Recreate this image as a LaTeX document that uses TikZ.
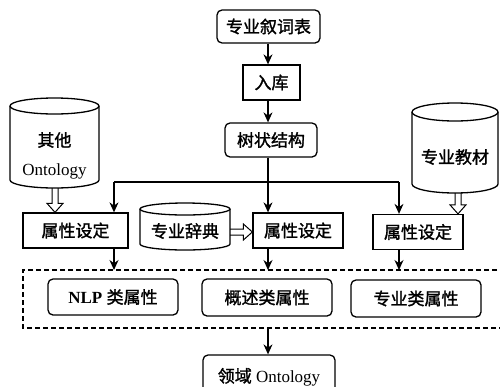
\documentclass[tikz,border=0pt]{standalone}
\usepackage{fontspec}
\setmainfont{Liberation Serif}
\newfontfamily\cjk[FakeBold=1.5]{Noto Sans CJK SC}
\usetikzlibrary{arrows.meta,calc}
\newcommand\hollowdown[2]{\draw[line width=1pt, line join=miter] ($(#1)+(-3,0)$) -- ($(#2)+(-3,-9)$) -- ($(#2)+(-8,-9)$) -- (#2) -- ($(#2)+(8,-9)$) -- ($(#2)+(3,-9)$) -- ($(#1)+(3,0)$);}
\newcommand\hollowright[2]{\draw[line width=1pt, line join=miter] ($(#1)+(0,-3)$) -- ($(#2)+(-9,-3)$) -- ($(#2)+(-9,-8)$) -- (#2) -- ($(#2)+(-9,8)$) -- ($(#2)+(-9,3)$) -- ($(#1)+(0,3)$);}
\begin{document}
\begin{tikzpicture}[x=1pt,y=-1pt,
  txt/.style={inner sep=0pt, font=\fontsize{17}{17}\selectfont},
  box/.style={draw, line width=1.3pt, inner sep=0pt, font=\fontsize{17}{17}\selectfont},
  rbox/.style={box, rounded corners=5pt},
  cylline/.style={line width=1.3pt},
  arr/.style={-{Stealth[length=10pt,width=9pt]}, line width=1.2pt}]
\useasboundingbox (0,0) rectangle (500,386);
% top chain
\node[rbox, minimum width=103pt, minimum height=33pt] (top) at (268.5,26.5) {\cjk 专业叙词表};
\node[box, minimum width=57pt, minimum height=35pt] (ruku) at (271.5,82.5) {\cjk 入库};
\node[rbox, minimum width=92pt, minimum height=34pt] (tree) at (271,140) {\cjk 树状结构};
\coordinate (col) at (268,0);
\draw[arr] (top.south -| col) -- (ruku.north -| col);
\draw[arr] (ruku.south -| col) -- (tree.north -| col);
% cylinders
\draw[cylline] (54.5,106) ellipse [x radius=44.5pt, y radius=8pt];
\draw[cylline] (10,106) -- (10,180) arc[start angle=180,end angle=360,x radius=44.5pt,y radius=8pt] -- (99,106);
\node[txt] (othT) at (54.5,140) {\cjk 其他};
\node[txt] (othO) at (54.5,171) {Ontology};
\coordinate (othb) at (55,188);
\draw[cylline] (455,112) ellipse [x radius=43pt, y radius=9pt];
\draw[cylline] (412,112) -- (412,184) arc[start angle=180,end angle=360,x radius=43pt,y radius=9pt] -- (498,112);
\node[txt] (jcT) at (455,157) {\cjk 专业教材};
\coordinate (jcb) at (458,193);
\draw[cylline] (185,209) ellipse [x radius=45pt, y radius=6pt];
\draw[cylline] (140,209) -- (140,244) arc[start angle=180,end angle=360,x radius=45pt,y radius=6pt] -- (230,209);
\node[txt] (cdT) at (185,231) {\cjk 专业辞典};
\coordinate (cde) at (230,232);
% attribute boxes
\node[box, minimum width=105pt, minimum height=35pt] (a1) at (75.5,230.5) {\cjk 属性设定};
\node[box, minimum width=90pt, minimum height=35pt] (a2) at (298,230.5) {\cjk 属性设定};
\node[box, minimum width=90pt, minimum height=35pt] (a3) at (418,232) {\cjk 属性设定};
% distribution
\coordinate (cl) at (114,182);
\coordinate (cr) at (399,182);
\draw[arr] (tree.south -| col) -- (a2.north -| col);
\draw[line width=1.2pt] (cl) -- (cr);
\draw[arr] (cl) -- (a1.north -| cl);
\draw[arr] (cr) -- (a3.north -| cr);
% hollow arrows
\hollowdown{othb}{a1.north -| othb}
\hollowdown{jcb}{a3.north -| jcb}
\hollowright{cde}{a2.west |- cde}
% dashed group
\coordinate (gtl) at (23,270);
\coordinate (gbl) at (23,328);
\draw[line width=1.2pt, dash pattern=on 5pt off 3pt] (505,270) -- (gtl) -- (gbl) -- (505,328);
\node[rbox, minimum width=130pt, minimum height=36pt] (nlp) at (113,297) {\textbf{NLP} \cjk 类属性};
\node[rbox, minimum width=130pt, minimum height=37pt] (gs) at (267,297.5) {\cjk 概述类属性};
\node[rbox, minimum width=130pt, minimum height=37pt] (zy) at (416,298.5) {\cjk 专业类属性};
\draw[arr] (a1.south -| cl) -- (gtl -| cl);
\draw[arr] (a2.south -| col) -- (gtl -| col);
\draw[arr] (a3.south -| cr) -- (gtl -| cr);
% bottom
\node[rbox, minimum width=132pt, minimum height=44pt] (ly) at (269,377) {{\cjk 领域} Ontology};
\draw[arr] (gbl -| col) -- (ly.north -| col);
\end{tikzpicture}
\end{document}
